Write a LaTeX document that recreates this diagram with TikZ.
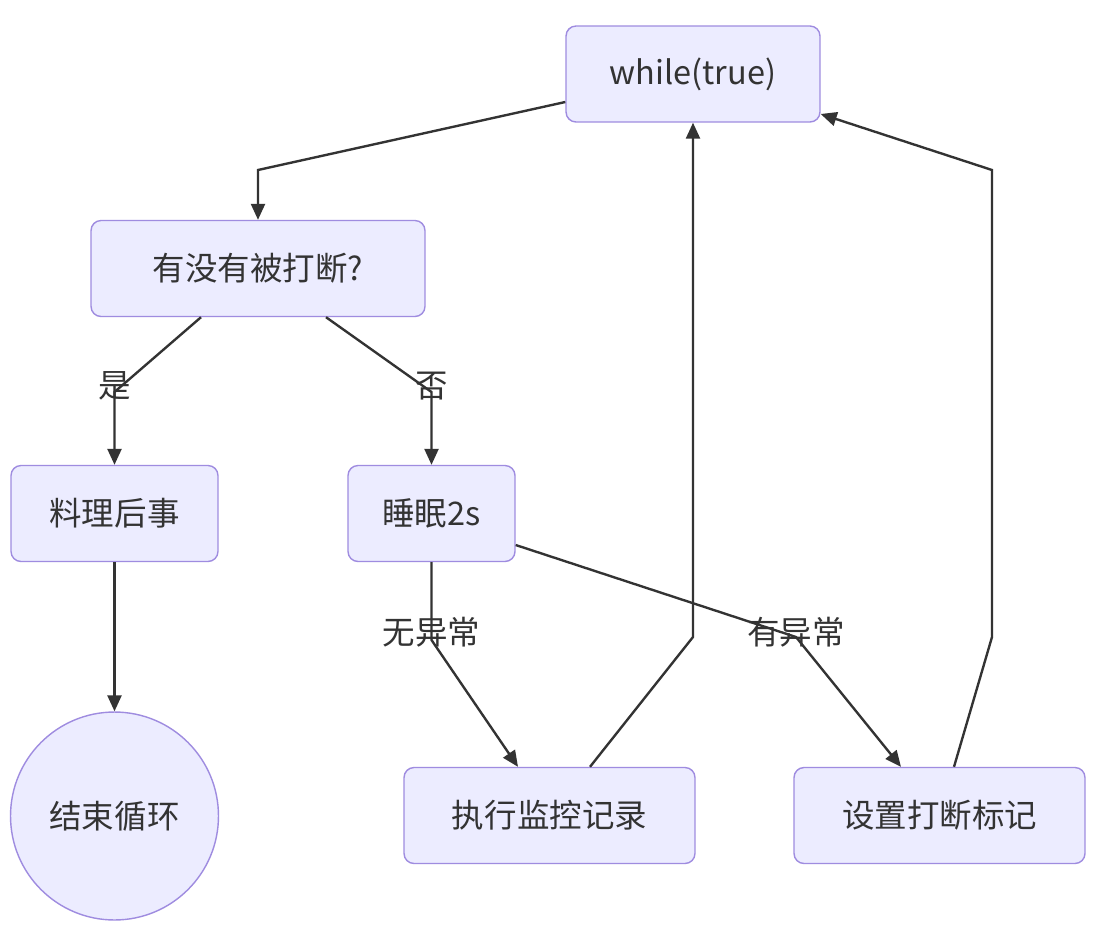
\documentclass[tikz,border=0pt]{standalone}
\usepackage{fontspec}
\setmainfont{Noto Sans CJK SC}
\usepackage{xcolor}
\usepackage{tikz}
\usetikzlibrary{arrows.meta,positioning}
\definecolor{nodefill}{HTML}{ECECFF}
\definecolor{nodeline}{HTML}{9F8CE0}
\definecolor{edgeline}{HTML}{333333}
\definecolor{textgray}{HTML}{333333}
\tikzset{
  flowbox/.style={rectangle, rounded corners=2mm, draw=nodeline, line width=0.8pt,
                  fill=nodefill, align=center, text=textgray, inner sep=0pt,
                  font=\fontsize{18.5}{22}\selectfont, minimum height=1.92cm},
  flowend/.style={circle, draw=nodeline, line width=0.8pt, fill=nodefill,
                  text=textgray, inner sep=0pt, minimum size=4.16cm,
                  font=\fontsize{18.5}{22}\selectfont},
  arr/.style={-{Triangle[length=3.2mm,width=2.8mm]}, line width=1.35pt, color=edgeline},
  lbl/.style={font=\fontsize{18.5}{22}\selectfont, text=textgray, inner sep=1pt},
}

\begin{document}
\begin{tikzpicture}[x=0.02cm, y=-0.02cm]
  \fill[white] (0,0) rectangle (1098,930);
  \useasboundingbox (0,0) rectangle (1098,930);
  % steps
  \node[flowbox, minimum width=5.08cm] (loop) at (693,74) {while(true)};
  \node[flowbox, minimum width=6.68cm] (check) at (258,268.5) {有没有被打断?};
  \node[flowbox, minimum width=4.14cm] (cleanup) at (114.5,513.5) {料理后事};
  \node[flowbox, minimum width=3.34cm] (sleep) at (431.5,513.5) {睡眠2s};
  \node[flowend] (stop) at (114.5,816) {结束循环};
  \node[flowbox, minimum width=5.82cm] (record) at (549.5,815.5) {执行监控记录};
  \node[flowbox, minimum width=5.82cm] (flag) at (939.5,815.5) {设置打断标记};
  % edges
  \draw[arr] (loop.west |- 0,102) -- (258,170) -- (check.north);
  \draw[arr] (check.south -| 201,0) -- (114.5,392) -- (cleanup.north);
  \draw[arr] (check.south -| 326,0) -- (431.5,392) -- (sleep.north);
  \draw[arr] (cleanup.south) -- (stop.north);
  \draw[arr] (sleep.south) -- (431.5,640) -- (record.north -| 518,0);
  \draw[arr] (sleep.east |- 0,545) -- (796,637) -- (flag.north -| 901,0);
  \draw[arr] (record.north -| 590,0) -- (693,637) -- (loop.south);
  \draw[arr] (flag.north -| 954,0) -- (992,637) -- (992,170) -- (loop.east |- 0,114);
  % edge labels
  \node[lbl] (yes) at (114.5,386) {是};
  \node[lbl] (no) at (431.5,386) {否};
  \node[lbl] (normal) at (431.5,632) {无异常};
  \node[lbl] (error) at (796,632) {有异常};
\end{tikzpicture}
\end{document}
